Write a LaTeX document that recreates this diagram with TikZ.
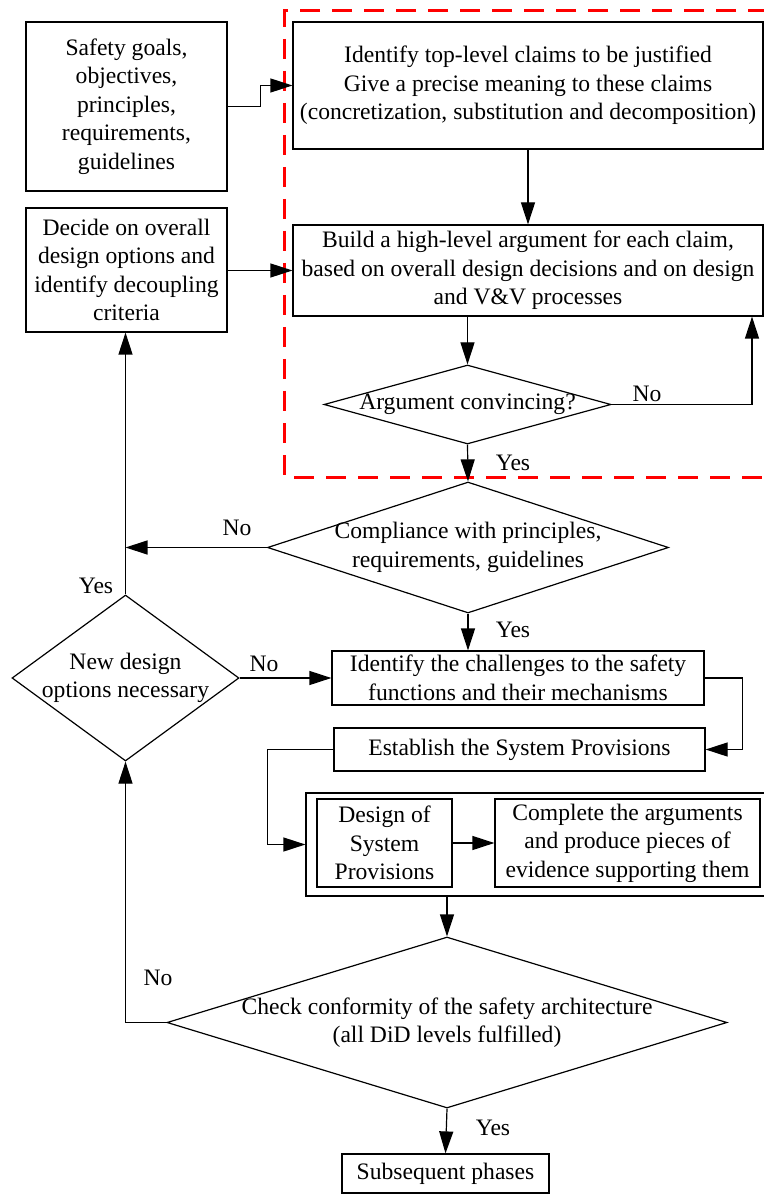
\documentclass[tikz,border=0pt]{standalone}
\usepackage{fontspec}
\setmainfont{Liberation Serif}
\usetikzlibrary{arrows.meta,shapes.geometric}
\begin{document}
\begin{tikzpicture}[x=0.5pt,y=-0.5pt,
  font=\fontsize{11.8}{14.2}\selectfont,
  box/.style={draw, line width=0.6pt, align=center, inner sep=0pt},
  dia/.style={draw, diamond, line width=0.6pt, inner sep=0pt},
  arr/.style={line width=0.6pt, -{Triangle[length=11pt,width=7pt]}},
  lbl/.style={inner sep=0pt},
  redbox/.style={draw=red, line width=1.5pt, dash pattern=on 10pt off 6pt}
]
\useasboundingbox (0,0) rectangle (764,1197);
\fill[white] (0,0) rectangle (764,1197);

% red dashed frame (right edge outside the picture)
\draw[redbox] (800,11) -- (284,11) -- (284,477) -- (800,477);

% boxes
\node[box, minimum width=100.5pt, minimum height=84.5pt] (safety) at (126.5,106.5)
  {Safety goals,\\objectives,\\principles,\\requirements,\\guidelines};
\node[box, minimum width=235pt, minimum height=63.5pt] (identify) at (528,85.5)
  {Identify top-level claims to be justified\\Give a precise meaning to these claims\\(concretization, substitution and decomposition)};
\node[box, minimum width=100.5pt, minimum height=62pt] (decide) at (126.5,270)
  {Decide on overall\\design options and\\identify decoupling\\criteria};
\node[box, minimum width=235pt, minimum height=45.5pt] (build) at (528,270.5)
  {Build a high-level argument for each claim,\\based on overall design decisions and on design\\and V\&V processes};
\node[box, minimum width=186pt, minimum height=27pt] (challenges) at (518,678)
  {Identify the challenges to the safety\\functions and their mechanisms};
\node[box, minimum width=185.5pt, minimum height=21.5pt] (establish) at (519.5,749.5)
  {Establish the System Provisions};
\node[box, minimum width=231pt, minimum height=51.5pt] (outer) at (537,844.5) {};
\node[box, minimum width=67.5pt, minimum height=44pt] (design) at (384.5,843)
  {Design of\\System\\Provisions};
\node[box, minimum width=132.5pt, minimum height=44pt] (complete) at (627.5,843)
  {Complete the arguments\\and produce pieces of\\evidence supporting them};
\node[box, minimum width=103.5pt, minimum height=19.5pt] (subsequent) at (445.5,1173.5)
  {Subsequent phases};

% decisions
\node[dia, minimum width=143.5pt, minimum height=39.5pt,
  label={[align=center]center:Argument convincing?}] (d1) at (467.5,404.5) {};
\node[dia, minimum width=200.5pt, minimum height=65.5pt,
  label={[align=center]center:Compliance with principles,\\requirements, guidelines}] (d2) at (468,547.5) {};
\node[dia, minimum width=113.5pt, minimum height=83pt,
  label={[align=center]center:New design\\options necessary}] (d3) at (125.5,678) {};
\node[dia, minimum width=280pt, minimum height=85.5pt,
  label={[align=center]center:Check conformity of the safety architecture\\(all DiD levels fulfilled)}] (d4) at (447,1022.5) {};

% helper coordinates
\coordinate (c1) at (752,0);

% connectors
\draw[arr] (safety.east) -- ++(33,0) |- (identify.west);
\draw[arr] (decide.east |- build.west) -- (build.west);
\draw[arr] (identify.south) -- (build.north);
\draw[arr] (build.south -| d1.north) -- (d1.north);
\draw[arr] (d1.east) -| (c1 |- build.south);
\draw[arr] (d1.south) -- (d2.north);
\draw[arr] (d2.west) -- (d3.north |- d2.west);
\draw[arr] (d3.north) -- (d3.north |- decide.south);
\draw[arr] (d2.south) -- (d2.south |- challenges.north);
\draw[arr] (d3.east) -- (challenges.west);
\draw[arr] (challenges.east) -- ++(38,0) |- (establish.east);
\draw[arr] (establish.west) -- ++(-66,0) |- (outer.west);
\draw[arr] (design.east) -- (complete.west);
\draw[arr] (outer.south -| d4.north) -- (d4.north);
\draw[arr] (d4.west) -| (d3.south);
\draw[arr] (d4.south) -- (subsequent.north);

% branch labels
\node[lbl] (no1) at (647,394) {No};
\node[lbl] (yes1) at (513,463) {Yes};
\node[lbl] (no2) at (237,528) {No};
\node[lbl] (yes2) at (96,586) {Yes};
\node[lbl] (no3) at (264,664) {No};
\node[lbl] (yes3) at (513,630) {Yes};
\node[lbl] (no4) at (158,978) {No};
\node[lbl] (yes4) at (493,1128) {Yes};
\end{tikzpicture}
\end{document}
